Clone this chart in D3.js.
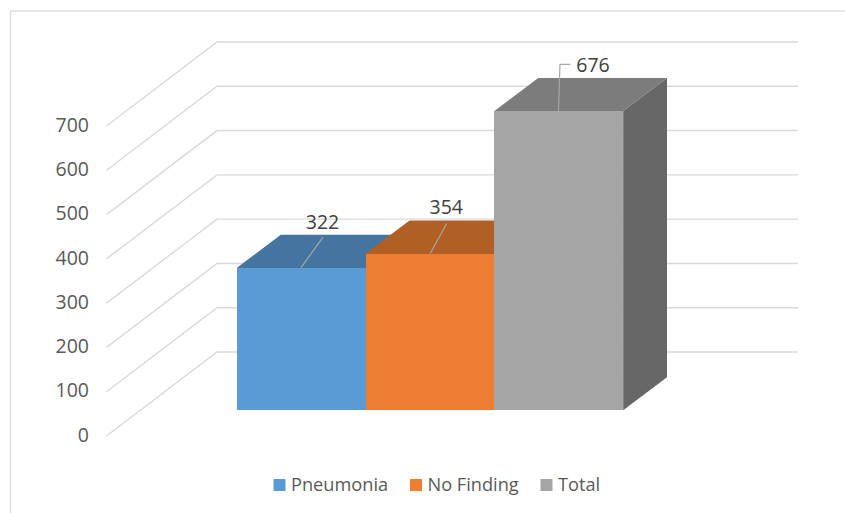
<!DOCTYPE html>
<html><head><meta charset="utf-8">
<script src="https://cdn.jsdelivr.net/npm/d3@7"></script>
<style>html,body{margin:0;padding:0;background:#fff}svg{display:block}
text{font-family:"Open Sans",sans-serif}</style></head>
<body><svg id="c" width="845" height="513"></svg>
<script>
const categories = ["Pneumonia","No Finding","Total"];
const values = [322,354,676];
const tickValues = [0,100,200,300,400,500,600,700];
const frontColors = ["#5B9BD5","#ED7D31","#A5A5A5"];
const topColors = ["#4474A0","#B25F25","#7C7C7C"];
const sideColors = ["#44628A","#8E4C1E","#676767"];

const svg = d3.select("#c");
// frame
svg.append("path").attr("d","M10.5,513V11H845").attr("fill","none").attr("stroke","#dedede").attr("stroke-width",1.5);

const yFront = d3.scaleLinear().domain([0,700]).range([436,126]);
const yBack  = d3.scaleLinear().domain([0,700]).range([352,42]);
const yBar   = d3.scaleLinear().domain([0,700]).range([410.3,100.3]);
const x = d3.scaleBand().domain(categories).range([237,623.2]);
const depthX = 43.8, depthY = 33;

// walls grid
svg.append("g").selectAll("path").data(tickValues).join("path")
  .attr("d",d=>`M106.5,${yFront(d)}L217,${yBack(d)}H798`)
  .attr("fill","none").attr("stroke","#d9d9d9").attr("stroke-width",1.4);

// axis labels
const axis = d3.axisLeft(yFront).tickValues(tickValues).tickSize(0).tickPadding(0);
const ag = svg.append("g").attr("transform","translate(89,-1)").call(axis);
ag.select(".domain").remove();
ag.selectAll("text").attr("font-size",19.5).attr("fill","#595959").style("font-family",'"Open Sans",sans-serif');

// bars
const bars = svg.append("g").selectAll("g").data(categories).join("g");
bars.append("path").attr("fill",(d,i)=>sideColors[i]).attr("d",(d,i)=>{
  const r=x(d)+x.bandwidth(), t=yBar(values[i]), b=yBar(0);
  return `M${r},${t}L${r+depthX},${t-depthY}V${b-depthY}L${r},${b}Z`;});
bars.append("path").attr("fill",(d,i)=>topColors[i]).attr("d",(d,i)=>{
  const l=x(d), r=l+x.bandwidth(), t=yBar(values[i]);
  return `M${l},${t}L${l+depthX},${t-depthY}H${r+depthX}L${r},${t}V${t+1.5}H${l}Z`;});
bars.append("rect").attr("fill",(d,i)=>frontColors[i]).attr("shape-rendering","crispEdges")
  .attr("x",d=>x(d)).attr("width",x.bandwidth())
  .attr("y",(d,i)=>yBar(values[i])).attr("height",(d,i)=>yBar(0)-yBar(values[i]));

// leader lines & data labels
const leaders = [[[64,0],[86,-30.5]],[[64.5,0],[81,-30]],[[64,0],[65.5,-46.5],[76,-46.5]]];
const labelOffsets = [[85.5,-46],[80.5,-47],[98.5,-46]];
bars.append("path").attr("fill","none").attr("stroke","#a6a6a6").attr("stroke-width",1.2)
  .attr("d",(d,i)=>d3.line()(leaders[i].map(p=>[x(d)+p[0],yBar(values[i])+p[1]])));
bars.append("text").attr("text-anchor","middle").attr("dominant-baseline","central")
  .attr("font-size",19.5).attr("fill","#404040")
  .attr("x",(d,i)=>x(d)+labelOffsets[i][0]).attr("y",(d,i)=>yBar(values[i])+labelOffsets[i][1])
  .text((d,i)=>values[i]);

// legend
const legendX = [273.5,410,540.5];
const lg = svg.append("g").selectAll("g").data(categories).join("g")
  .attr("transform",(d,i)=>`translate(${legendX[i]},485)`);
lg.append("rect").attr("x",0).attr("y",-6).attr("width",12).attr("height",12).attr("fill",(d,i)=>frontColors[i]);
lg.append("text").attr("x",17.5).attr("y",-1.5).attr("dominant-baseline","central").attr("font-size",18.2).attr("fill","#595959").text(d=>d);
</script></body></html>
